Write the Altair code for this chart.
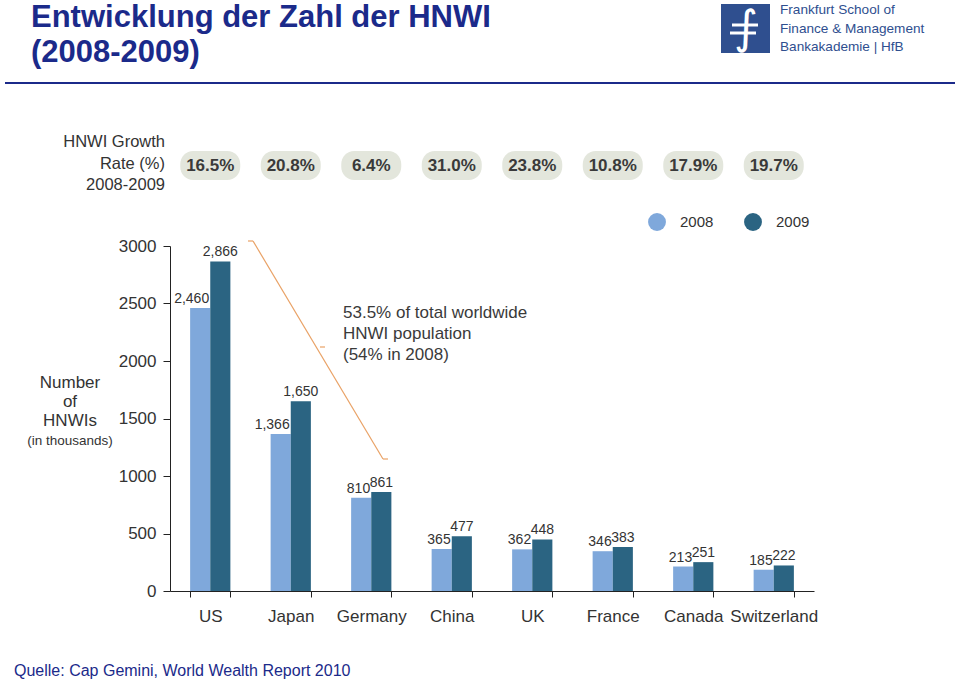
import altair as alt
import pandas as pd

# ---------------- data ----------------
countries = ["US", "Japan", "Germany", "China", "UK", "France", "Canada", "Switzerland"]
hnwi_2008 = [2460, 1366, 810, 365, 362, 346, 213, 185]
hnwi_2009 = [2866, 1650, 861, 477, 448, 383, 251, 222]
growth = ["16.5%", "20.8%", "6.4%", "31.0%", "23.8%", "10.8%", "17.9%", "19.7%"]
years = ["2008", "2009"]
y_ticks = [0, 500, 1000, 1500, 2000, 2500, 3000]

title_lines = ["Entwicklung der Zahl der HNWI", "(2008-2009)"]
logo_lines = ["Frankfurt School of", "Finance & Management", "Bankakademie | HfB"]
growth_title = ["HNWI Growth", "Rate (%)", "2008-2009"]
y_title = ["Number", "of", "HNWIs"]
y_title_sub = "(in thousands)"
note_lines = ["53.5% of total worldwide", "HNWI population", "(54% in 2008)"]
source = "Quelle: Cap Gemini, World Wealth Report 2010"

rows = []
for c, a, b in zip(countries, hnwi_2008, hnwi_2009):
    rows.append({"country": c, "year": "2008", "value": a, "label": f"{a:,}"})
    rows.append({"country": c, "year": "2009", "value": b, "label": f"{b:,}"})
df = pd.DataFrame(rows)
gdf = pd.DataFrame({"country": countries, "growth": growth})
one = pd.DataFrame({"k": [0]})

# ---------------- styles ----------------
FONT = "Liberation Sans, Arial, sans-serif"
C08 = "#7fa8db"
C09 = "#2b6482"
NAVY = "#1b2a8a"
LOGO = "#2f4f8f"
TXT = "#333333"
ORANGE = "#e9a266"

x_enc = alt.X(
    "country:N",
    sort=countries,
    scale=alt.Scale(domain=countries, paddingInner=0.5, paddingOuter=0.25),
    axis=alt.Axis(
        title=None, labelAngle=0, labelFontSize=17, labelColor=TXT, labelFont=FONT,
        labelPadding=11, tickBand="extent", tickSize=6, tickColor="#222",
        domainColor="#222", labelFlush=False,
    ),
)
xo_enc = alt.XOffset("year:N", scale=alt.Scale(domain=years, paddingInner=0, paddingOuter=0))
y_enc = alt.Y(
    "value:Q",
    scale=alt.Scale(domain=[0, 3000], nice=False),
    axis=alt.Axis(
        title=None, values=y_ticks, format="d", grid=False, labelFontSize=17,
        labelColor=TXT, labelFont=FONT, tickSize=7, labelPadding=7,
        tickColor="#222", domainColor="#222",
    ),
)

bars = alt.Chart(df).mark_bar().encode(
    x=x_enc,
    xOffset=xo_enc,
    y=y_enc,
    color=alt.Color(
        "year:N",
        scale=alt.Scale(domain=years, range=[C08, C09]),
        legend=alt.Legend(
            title=None, orient="none", legendX=478, legendY=-33, direction="horizontal",
            symbolType="circle", symbolSize=320, symbolStrokeWidth=0, symbolOpacity=1,
            labelFontSize=15, labelFont=FONT, labelColor=TXT, labelOffset=14,
            columnPadding=30, padding=0,
        ),
    ),
)

lab08 = alt.Chart(df).transform_filter(alt.datum.year == "2008").mark_text(
    align="right", baseline="bottom", dx=9, dy=-2, fontSize=14, font=FONT, color=TXT
).encode(x=x_enc, xOffset=xo_enc, y=y_enc, text="label:N")

lab09 = alt.Chart(df).transform_filter(alt.datum.year == "2009").mark_text(
    align="center", baseline="bottom", dy=-2, fontSize=14, font=FONT, color=TXT
).encode(x=x_enc, xOffset=xo_enc, y=y_enc, text="label:N")

pills = alt.Chart(gdf).mark_bar(cornerRadius=13, width=60, color="#e3e6dc").encode(
    x=x_enc, y=alt.value(-95), y2=alt.value(-66)
)
pill_text = alt.Chart(gdf).mark_text(
    baseline="middle", fontSize=17, font=FONT, fontWeight="bold", color="#3a3a3a"
).encode(x=x_enc, y=alt.value(-80), text="growth:N")

layers = [pills, pill_text, bars, lab08, lab09]

def txt(text, x, y, **kw):
    return alt.Chart(one).mark_text(text=text, **kw).encode(x=alt.value(x), y=alt.value(y))

# growth-rate label (right aligned)
for i, t in enumerate(growth_title):
    layers.append(txt(t, -5, [-104, -82, -61][i], align="right", baseline="middle",
                      fontSize=16.5, font=FONT, color=TXT))

# y-axis title
for i, t in enumerate(y_title):
    layers.append(txt(t, -100, [137, 156, 175][i], align="center", baseline="middle",
                      fontSize=17, font=FONT, color=TXT))
layers.append(txt(y_title_sub, -100, 195, align="center", baseline="middle",
                  fontSize=13.5, font=FONT, color=TXT))

# annotation bracket
def seg(x1, y1, x2, y2):
    return alt.Chart(one).mark_rule(color=ORANGE, strokeWidth=1.2).encode(
        x=alt.value(x1), y=alt.value(y1), x2=alt.value(x2), y2=alt.value(y2))

layers += [seg(83, -5, 213, 213), seg(78, -5, 83, -5), seg(150, 101, 155, 101), seg(213, 213, 218, 213)]
for i, t in enumerate(note_lines):
    layers.append(txt(t, 173, [67, 88, 109][i], align="left", baseline="middle",
                      fontSize=17, font=FONT, color="#3a3a3a"))

# header
layers.append(txt(title_lines[0], -139, -219, align="left", baseline="alphabetic",
                  fontSize=31, font=FONT, fontWeight="bold", color=NAVY))
layers.append(txt(title_lines[1], -139, -184, align="left", baseline="alphabetic",
                  fontSize=31, font=FONT, fontWeight="bold", color=NAVY))
layers.append(alt.Chart(one).mark_rule(color=NAVY, strokeWidth=2).encode(
    x=alt.value(-165), x2=alt.value(785), y=alt.value(-163)))

# logo
layers.append(alt.Chart(one).mark_rect(color=LOGO).encode(
    x=alt.value(551), x2=alt.value(600), y=alt.value(-242), y2=alt.value(-193)))
layers.append(txt("\u222b", 576, -217, align="center", baseline="middle",
                  fontSize=46, font="DejaVu Sans", color="white"))
layers.append(alt.Chart(one).mark_rule(color="white", strokeWidth=3).encode(
    x=alt.value(562), x2=alt.value(588), y=alt.value(-221)))
layers.append(alt.Chart(one).mark_rule(color="white", strokeWidth=3).encode(
    x=alt.value(560), x2=alt.value(586), y=alt.value(-213)))
for i, t in enumerate(logo_lines):
    layers.append(txt(t, 610, [-232, -213, -195][i], align="left", baseline="alphabetic",
                      fontSize=13.6, font=FONT, color=LOGO))

# footer
layers.append(txt(source, -156, 430, align="left", baseline="alphabetic",
                  fontSize=16, font=FONT, color=NAVY))

chart = alt.layer(*layers).properties(
    width=644,
    height=345,
    autosize=alt.AutoSizeParams(type="none"),
    padding={"left": 170, "top": 246, "right": 146, "bottom": 90},
    background="white",
).configure_view(stroke=None)

chart.save("out.html", embed_options={"renderer": "svg", "actions": False})
